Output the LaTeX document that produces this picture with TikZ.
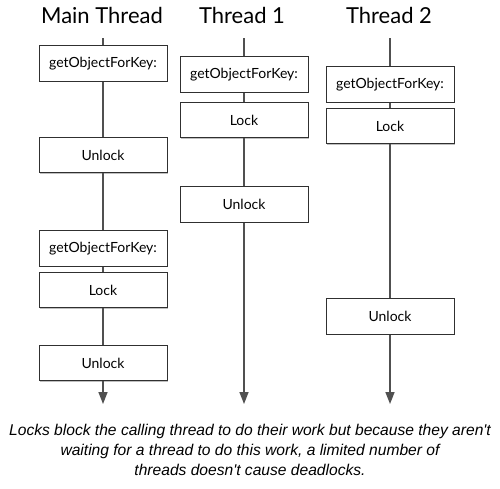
\documentclass[tikz,border=0pt]{standalone}
\usepackage{fontspec}
\setmainfont{Lato}
\newfontfamily\capfont{Liberation Sans}
\usetikzlibrary{arrows.meta,shadows}
\definecolor{lineg}{HTML}{505050}
\definecolor{boxg}{HTML}{303030}
\tikzset{
  opbox/.style={draw=boxg, line width=1pt, fill=white, minimum width=128pt, minimum height=35.5pt, inner sep=0pt,
     font=\fontsize{14}{16}\selectfont, drop shadow={shadow xshift=1.2pt, shadow yshift=-1.2pt, fill=black!25, opacity=1}},
  tline/.style={draw=lineg, line width=1.6pt},
  tarrow/.style={tline, -{Triangle[length=12pt,width=9pt]}},
  title/.style={font=\fontsize{22}{24}\selectfont, anchor=base, inner sep=0pt}
}
\begin{document}
\begin{tikzpicture}[x=1pt,y=-1pt]
\useasboundingbox (0,0) rectangle (500,488);
% titles
\node[title] (tm) at (102,23) {Main Thread};
\node[title] (t1) at (242,23) {Thread 1};
\node[title] (t2) at (389,23) {Thread 2};
% main thread
\coordinate (m0) at (103,38);
\coordinate (m9) at (103,404);
\node[opbox] (mg1) at (103,63.5) {getObjectForKey:};
\node[opbox] (mu1) at (103,155) {Unlock};
\node[opbox] (mg2) at (103,248.5) {getObjectForKey:};
\node[opbox] (ml2) at (103,290) {Lock};
\node[opbox] (mu2) at (103,363) {Unlock};
% thread 1
\coordinate (a0) at (244,38);
\coordinate (a9) at (244,404);
\node[opbox] (ag) at (244,74.5) {getObjectForKey:};
\node[opbox] (al) at (244,120) {Lock};
\node[opbox] (au) at (244,204.5) {Unlock};
% thread 2
\coordinate (b0) at (390,38);
\coordinate (b9) at (390,404);
\node[opbox] (bg) at (390,84.5) {getObjectForKey:};
\node[opbox] (bl) at (390,126) {Lock};
\node[opbox] (bu) at (390,316.5) {Unlock};
% lines
\draw[tline] (m0) -- (mg1.north);
\draw[tline] (mg1.south) -- (mu1.north);
\draw[tline] (mu1.south) -- (mg2.north);
\draw[tline] (mg2.south) -- (ml2.north);
\draw[tline] (ml2.south) -- (mu2.north);
\draw[tarrow] (mu2.south) -- (m9);
\draw[tline] (a0) -- (ag.north);
\draw[tline] (ag.south) -- (al.north);
\draw[tline] (al.south) -- (au.north);
\draw[tarrow] (au.south) -- (a9);
\draw[tline] (b0) -- (bg.north);
\draw[tline] (bg.south) -- (bl.north);
\draw[tline] (bl.south) -- (bu.north);
\draw[tarrow] (bu.south) -- (b9);
% caption
\node[font=\capfont\itshape\fontsize{15.6}{20}\selectfont, align=center, anchor=north, inner sep=0pt] (cap) at (250,424)
 {Locks block the calling thread to do their work but because they aren't\\
  waiting for a thread to do this work, a limited number of\\
  threads doesn't cause deadlocks.};
\end{tikzpicture}
\end{document}
